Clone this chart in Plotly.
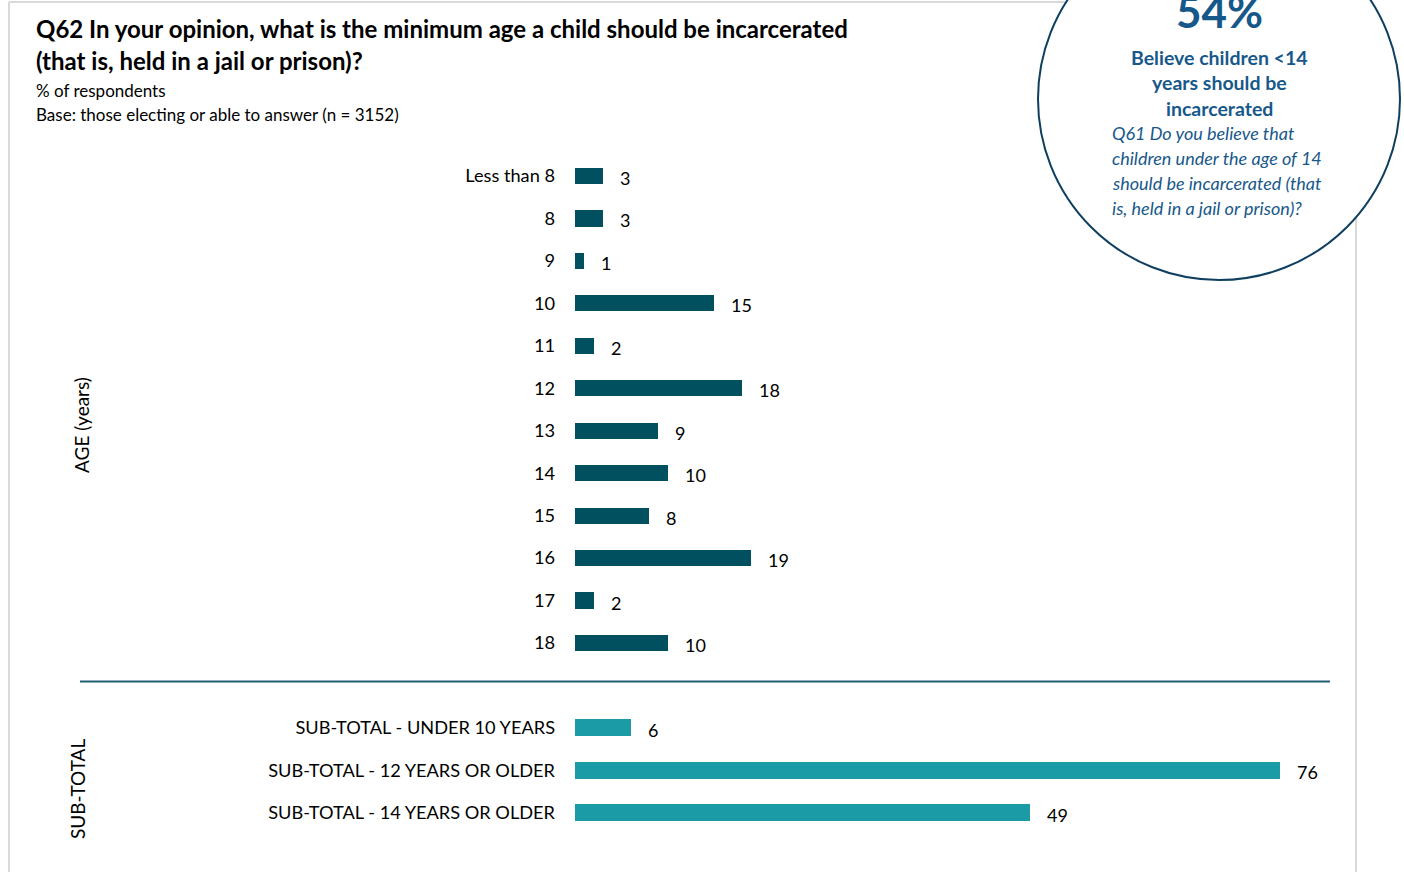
import plotly.graph_objects as go

# ---- data ----
age_labels = ["Less than 8", "8", "9", "10", "11", "12", "13", "14", "15", "16", "17", "18"]
age_values = [3, 3, 1, 15, 2, 18, 9, 10, 8, 19, 2, 10]
sub_labels = ["SUB-TOTAL - UNDER 10 YEARS", "SUB-TOTAL - 12 YEARS OR OLDER", "SUB-TOTAL - 14 YEARS OR OLDER"]
sub_values = [6, 76, 49]

title_lines = ["Q62 In your opinion, what is the minimum age a child should be incarcerated",
               "(that is, held in a jail or prison)?"]
subtitle_lines = ["% of respondents", "Base: those electing or able to answer (n = 3152)"]
circle_big = "54%"
circle_bold = ["Believe children <14", "years should be", "incarcerated"]
circle_italic = ["Q61 Do you believe that", "children under the age of 14",
                 "should be incarcerated (that", "is, held in a jail or prison)?"]

W, H = 1404, 872
FONT = "Lato"
DARK = "#00505f"
LIGHT = "#1a9ba5"
NAVY = "#0f3f60"
BLUE = "#17588a"


def px(x):
    return x / W


def py(y):
    return 1 - y / H


age_pos = list(range(len(age_labels)))
sub_pos = [len(age_labels) + 1 + j for j in range(len(sub_labels))]

fig = go.Figure()
fig.add_trace(go.Bar(y=age_pos, x=age_values, orientation="h", marker=dict(color=DARK, line=dict(width=0)),
                     width=0.38, hoverinfo="skip"))
fig.add_trace(go.Bar(y=sub_pos, x=sub_values, orientation="h", marker=dict(color=LIGHT, line=dict(width=0)),
                     width=0.40, hoverinfo="skip"))

# y-axis pixel mapping: row i center at 176 + 42.45*i
row0, step = 176.0, 42.45
y_top = -row0 / step
y_bot = (H - row0) / step
x0_px, scale = 575.0, 705.0 / 76.0
x_right_px = 1330.0

annotations = []
for pos, v in list(zip(age_pos, age_values)) + list(zip(sub_pos, sub_values)):
    annotations.append(dict(x=v, y=pos, xref="x", yref="y", text=str(v), showarrow=False,
                            xanchor="left", yanchor="middle", xshift=15, yshift=-2,
                            font=dict(family=FONT, size=18, color="#000000")))

# titles
for i, t in enumerate(title_lines):
    annotations.append(dict(x=px(34), y=py(29 + 31 * i), xref="paper", yref="paper", text="<b>%s</b>" % t,
                            showarrow=False, xanchor="left", yanchor="middle",
                            font=dict(family=FONT, size=24, color="#000000")))
for i, t in enumerate(subtitle_lines):
    annotations.append(dict(x=px(34), y=py(91 + 23 * i), xref="paper", yref="paper", text=t,
                            showarrow=False, xanchor="left", yanchor="middle",
                            font=dict(family=FONT, size=17, color="#000000")))

# rotated group labels
annotations.append(dict(x=px(82), y=py(425), xref="paper", yref="paper", text="AGE (years)", textangle=-90,
                        showarrow=False, xanchor="center", yanchor="middle",
                        font=dict(family=FONT, size=19, color="#000000")))
annotations.append(dict(x=px(77), y=py(789), xref="paper", yref="paper", text="SUB-TOTAL", textangle=-90,
                        showarrow=False, xanchor="center", yanchor="middle",
                        font=dict(family=FONT, size=19, color="#000000")))

# circle texts
annotations.append(dict(x=px(1219), y=py(11), xref="paper", yref="paper", text="<b>%s</b>" % circle_big,
                        showarrow=False, xanchor="center", yanchor="middle",
                        font=dict(family=FONT, size=44, color=BLUE)))
for i, t in enumerate(circle_bold):
    annotations.append(dict(x=px(1219), y=py(57 + 25.5 * i), xref="paper", yref="paper", text="<b>%s</b>" % t,
                            showarrow=False, xanchor="center", yanchor="middle",
                            font=dict(family=FONT, size=19.5, color=BLUE)))
for i, t in enumerate(circle_italic):
    annotations.append(dict(x=px(1110), y=py(133 + 25 * i), xref="paper", yref="paper", text="<i>%s</i>" % t,
                            showarrow=False, xanchor="left", yanchor="middle",
                            font=dict(family=FONT, size=18, color=BLUE)))

shapes = [
    # frame
    dict(type="line", xref="paper", yref="paper", x0=px(9), x1=px(9), y0=py(2), y1=py(H), line=dict(color="#d9d9d9", width=2)),
    dict(type="line", xref="paper", yref="paper", x0=px(9), x1=px(1356), y0=py(2), y1=py(2), line=dict(color="#d9d9d9", width=2)),
    dict(type="line", xref="paper", yref="paper", x0=px(1356), x1=px(1356), y0=py(2), y1=py(H), line=dict(color="#d9d9d9", width=2)),
    # separator
    dict(type="line", xref="paper", yref="paper", x0=px(80), x1=px(1330), y0=py(681.5), y1=py(681.5), line=dict(color="#1f5e73", width=2)),
    # circle
    dict(type="circle", xref="paper", yref="paper", x0=px(1038), x1=px(1400), y0=py(-82), y1=py(280),
         fillcolor="white", line=dict(color=NAVY, width=2), layer="above"),
]

fig.update_layout(
    width=W, height=H,
    margin=dict(l=0, r=0, t=0, b=0),
    paper_bgcolor="white", plot_bgcolor="white",
    showlegend=False, bargap=0,
    xaxis=dict(domain=[px(x0_px), px(x_right_px)], range=[0, (x_right_px - x0_px) / scale],
               visible=False, fixedrange=True),
    yaxis=dict(domain=[0, 1], range=[y_bot, y_top], tickmode="array",
               tickvals=age_pos + sub_pos, ticktext=age_labels + sub_labels,
               showgrid=False, zeroline=False, showline=False, ticks="",
               ticklabelstandoff=19, tickfont=dict(family=FONT, size=18.2, color="#000000"),
               fixedrange=True),
    annotations=annotations,
    shapes=shapes,
)

fig.write_html("out.html", config={"displayModeBar": False},
               post_script="document.body.style.margin='0';")
